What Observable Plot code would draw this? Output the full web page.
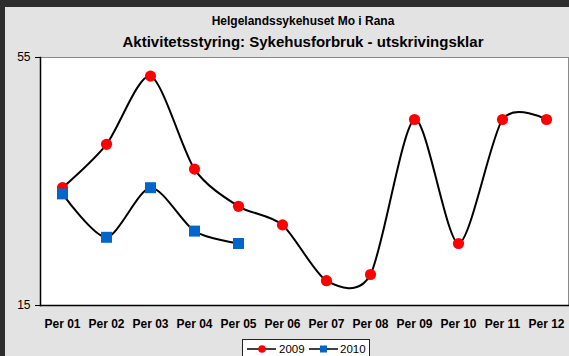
<!DOCTYPE html>
<html><head><meta charset="utf-8">
<script src="https://cdn.jsdelivr.net/npm/d3@7"></script>
<script src="https://cdn.jsdelivr.net/npm/@observablehq/plot@0.6"></script>
<style>
html,body{margin:0;padding:0;background:#2d2d2d;width:569px;height:356px;overflow:hidden;font-family:"Liberation Sans",Arial,sans-serif}
#panel{position:absolute;left:5px;top:7px;width:564px;height:349px;background:#e3e3e3}
.t{position:absolute;left:0;width:606px;text-align:center;font-weight:bold;color:#000;white-space:nowrap}
#t1{top:15px;font-size:12px;line-height:12px}
#t2{top:34px;font-size:15px;line-height:15px}
#chart{position:absolute;left:0;top:0}
#legend{position:absolute;left:242px;top:339px;width:126px;height:20px;border:1px solid #222;background:#fff}
#legend svg{display:block}
</style></head>
<body>
<div id="panel"></div>
<div class="t" id="t1">Helgelandssykehuset Mo i Rana</div>
<div class="t" id="t2">Aktivitetsstyring: Sykehusforbruk - utskrivingsklar</div>
<div id="chart"></div>
<div id="legend">
<svg width="126" height="20">
<line x1="4" x2="33" y1="9" y2="9" stroke="#000" stroke-width="1.5"/>
<circle cx="19" cy="9" r="3.8" fill="#ff0000"/>
<text x="36" y="13" font-size="11.5" font-family="Liberation Sans, Arial">2009</text>
<line x1="66" x2="95" y1="9" y2="9" stroke="#000" stroke-width="1.5"/>
<rect x="77" y="5.5" width="7" height="7" fill="#0066cc"/>
<text x="97" y="13" font-size="11.5" font-family="Liberation Sans, Arial">2010</text>
</svg>
</div>
<script>
const periods = ["Per 01","Per 02","Per 03","Per 04","Per 05","Per 06","Per 07","Per 08","Per 09","Per 10","Per 11","Per 12"];
const values2009 = [34, 41, 52, 37, 31, 28, 19, 20, 45, 25, 45, 45];
const values2010 = [33, 26, 34, 27, 25];
const yTicks = [15, 55];

const data2009 = values2009.map((v, i) => ({period: periods[i], value: v}));
const data2010 = values2010.map((v, i) => ({period: periods[i], value: v}));

const chart = Plot.plot({
  width: 569,
  height: 340,
  marginLeft: 40,
  marginRight: 1,
  marginTop: 57,
  marginBottom: 35,
  style: {background: "transparent", fontFamily: "Liberation Sans, Arial, sans-serif", fontSize: "12px", color: "#000", overflow: "visible"},
  x: {type: "point", domain: periods, padding: 0.5, range: [39, 568]},
  y: {domain: [15, 55], range: [305, 57]},
  marks: [
    Plot.frame({fill: "#fff", stroke: "#8a8a8a"}),
    Plot.frame({anchor: "left", stroke: "#000", strokeWidth: 1.5}),
    Plot.frame({anchor: "bottom", stroke: "#000", strokeWidth: 1.5}),
    Plot.axisY({ticks: yTicks, tickSize: 5, tickPadding: 5, fontSize: 12, label: null, stroke: "#000"}),
    Plot.axisX({tickSize: 0, tickPadding: 14, fontSize: 12, fontWeight: "bold", label: null}),
    Plot.line(data2009, {x: "period", y: "value", curve: "cardinal", tension: 0.2, stroke: "#000", strokeWidth: 2}),
    Plot.dot(data2009, {x: "period", y: "value", r: 5.6, fill: "#ff0000", stroke: "none"}),
    Plot.line(data2010, {x: "period", y: "value", curve: "cardinal", tension: 0.2, stroke: "#000", strokeWidth: 2}),
    Plot.dot(data2010, {x: "period", y: "value", r: 6.2, symbol: "square", fill: "#0066cc", stroke: "none"})
  ]
});
document.getElementById("chart").appendChild(chart);
</script>
</body></html>
